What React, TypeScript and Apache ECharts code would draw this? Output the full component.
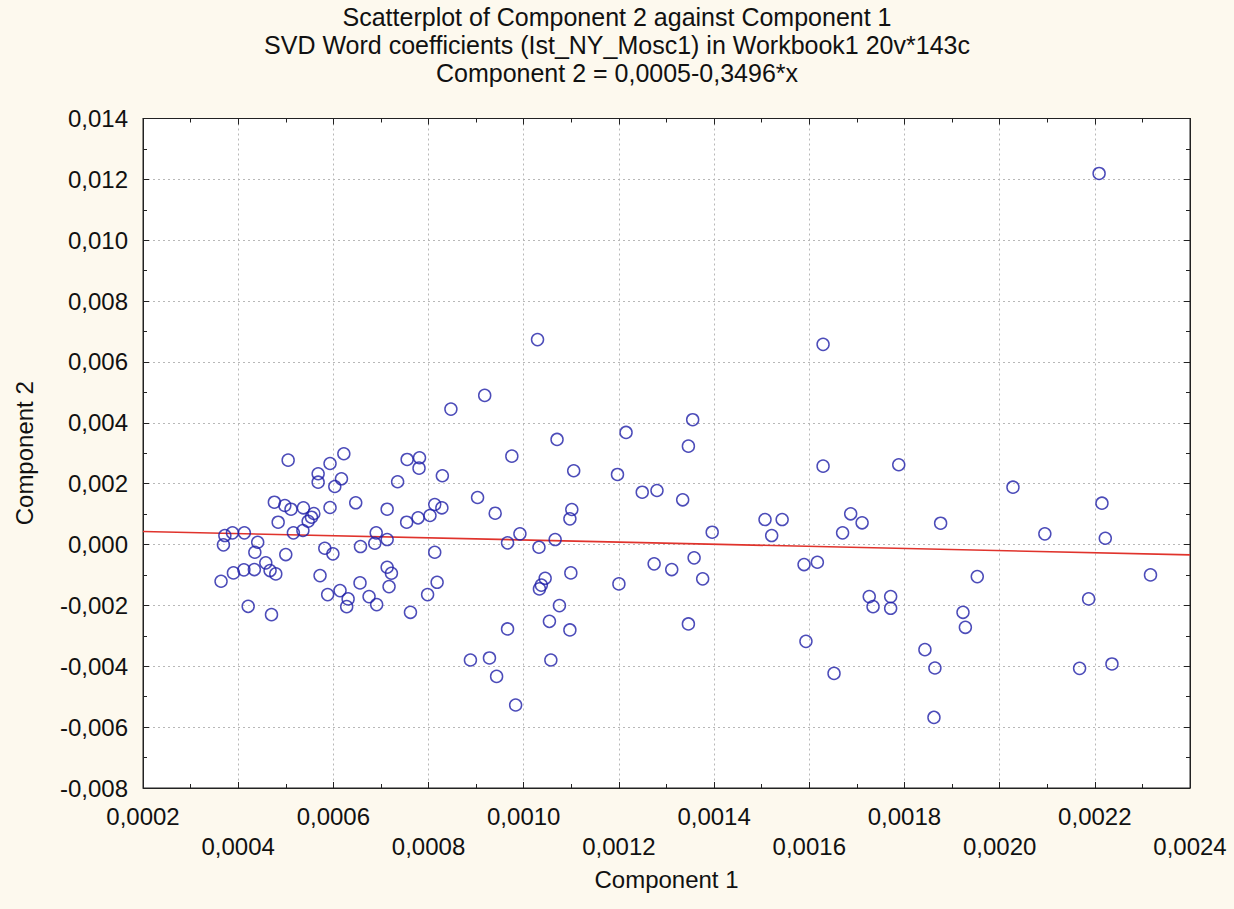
import React, { useEffect, useRef } from "react";
import * as echarts from "echarts";

const titleLines = [
  "Scatterplot of Component 2 against Component 1",
  "SVD Word coefficients (Ist_NY_Mosc1) in Workbook1 20v*143c",
  "Component 2 = 0,0005-0,3496*x",
];

// Component 1 values
const comp1 = [
  0.000847, 0.000505, 0.000622, 0.000593, 0.000568, 0.000568, 0.000617, 0.000603, 0.000755, 0.000781,
  0.00078, 0.000829, 0.000735, 0.000476, 0.000498, 0.000511, 0.000537, 0.000593, 0.000647, 0.000713,
  0.000813, 0.000828, 0.000554, 0.000547, 0.000536, 0.000516, 0.000484, 0.000754, 0.000778, 0.000803,
  0.000372, 0.000388, 0.000413, 0.000369, 0.000441, 0.000435, 0.0005, 0.00069, 0.000687, 0.000713,
  0.000657, 0.000582, 0.000599, 0.000813, 0.000458, 0.000467, 0.000479, 0.000434, 0.000412, 0.00039,
  0.000364, 0.000572, 0.000713, 0.000722, 0.000717, 0.000656, 0.000588, 0.000614, 0.000631, 0.000628,
  0.000675, 0.000691, 0.000798, 0.000818, 0.000762, 0.000421, 0.00047, 0.001029, 0.000918, 0.001355,
  0.001215, 0.001346, 0.00107, 0.000975, 0.001105, 0.001197, 0.001249, 0.00128, 0.001334, 0.000903,
  0.00094, 0.001101, 0.001097, 0.001396, 0.000992, 0.000966, 0.001066, 0.001032, 0.001045, 0.001033,
  0.001099, 0.001075, 0.001054, 0.001097, 0.000966, 0.0012, 0.001274, 0.001311, 0.001358, 0.001376,
  0.001346, 0.000888, 0.000928, 0.000943, 0.001057, 0.000983, 0.001629, 0.001629, 0.001788, 0.001507,
  0.001543, 0.001521, 0.001687, 0.001711, 0.00167, 0.001876, 0.001589, 0.001617, 0.001726, 0.001734,
  0.001771, 0.001771, 0.001593, 0.001652, 0.001843, 0.001864, 0.001862, 0.001923, 0.001928, 0.001953,
  0.002209, 0.002028, 0.002215, 0.002095, 0.002222, 0.002317, 0.002187, 0.002168, 0.002236, 0.001037,
  0.000559,
];

// Component 2 values
const comp2 = [
  0.004451, 0.002773, 0.002984, 0.002664, 0.002326, 0.002049, 0.002161, 0.001908, 0.002796, 0.002852,
  0.00251, 0.00226, 0.002063, 0.001391, 0.001283, 0.001161, 0.001207, 0.001217, 0.001372, 0.001161,
  0.001316, 0.001207, 0.000898, 0.000766, 0.000461, 0.000385, 0.000734, 0.000734, 0.000878, 0.000954,
  0.000296, 0.000385, 0.000385, -0.00001, 0.000076, -0.000253, -0.000329, 0.000385, 0.000043, 0.000164,
  -0.000066, -0.000122, -0.000306, -0.000253, -0.000602, -0.000855, -0.000964, -0.000822, -0.000832, -0.000931,
  -0.001207, -0.00102, -0.000747, -0.000944, -0.001382, -0.00126, -0.001645, -0.001513, -0.001786, -0.00204,
  -0.001711, -0.001974, -0.001645, -0.00124, -0.002227, -0.00203, -0.002303, 0.006734, 0.004901, 0.004102,
  0.003684, 0.003234, 0.003454, 0.002905, 0.002424, 0.002303, 0.00172, 0.001776, 0.00147, 0.001546,
  0.00103, 0.001151, 0.000845, 0.000405, 0.000352, 0.000056, 0.000164, -0.000089, -0.001109, -0.001457,
  -0.000931, -0.002007, -0.002523, -0.002806, -0.002773, -0.001293, -0.000635, -0.000822, -0.000438, -0.001128,
  -0.002609, -0.003793, -0.003727, -0.004332, -0.003793, -0.005273, 0.006579, 0.002576, 0.002622, 0.000822,
  0.000822, 0.000296, 0.00101, 0.000714, 0.000385, 0.000701, -0.000658, -0.000582, -0.001711, -0.00204,
  -0.001711, -0.002095, -0.003181, -0.004234, -0.003454, -0.004056, -0.005681, -0.002227, -0.00272, -0.001053,
  0.012194, 0.001885, 0.001359, 0.000352, 0.000207, -0.000997, -0.001786, -0.004069, -0.003924, -0.001332,
  0.00102,
];

const fitIntercept = 0.0005;
const fitSlope = -0.3496;

const xMin = 0.0002;
const xMax = 0.0024;
const xStep = 0.0002;
const yMin = -0.008;
const yMax = 0.014;
const yStep = 0.002;

const FONT = "'Liberation Sans', Arial, sans-serif";

export default function App() {
  const ref = useRef<HTMLDivElement>(null);
  useEffect(() => {
    if (!ref.current) return;
    const chart = echarts.init(ref.current, null, { renderer: "svg" });
    const points = comp1.map((x, i) => [x, comp2[i]]);
    const fitLine = [
      [xMin, fitIntercept + fitSlope * xMin],
      [xMax, fitIntercept + fitSlope * xMax],
    ];
    const tickStyle = { show: true, inside: true, length: 6, lineStyle: { color: "#222", width: 1 } };
    const minorStyle = { show: true, splitNumber: 2, length: 4, lineStyle: { color: "#222", width: 1 } };
    chart.setOption({
      animation: false,
      backgroundColor: "#FDF9EE",
      title: {
        text: titleLines.join("\n"),
        left: "center",
        top: -2,
        textStyle: { fontFamily: FONT, fontSize: 25, fontWeight: "normal", color: "#111", lineHeight: 28 },
      },
      grid: {
        left: 143,
        right: 44,
        top: 118.5,
        bottom: 121,
        show: true,
        backgroundColor: "#ffffff",
        borderColor: "#222",
        borderWidth: 1,
      },
      xAxis: [
        {
          type: "value",
          min: xMin,
          max: xMax,
          interval: xStep,
          position: "bottom",
          name: "Component 1",
          nameLocation: "middle",
          nameGap: 79,
          nameTextStyle: { fontFamily: FONT, fontSize: 24, color: "#111" },
          axisLine: { show: true, onZero: false, lineStyle: { color: "#222" } },
          axisTick: tickStyle,
          minorTick: minorStyle,
          splitLine: { show: true, lineStyle: { color: "#b8b8b8", type: [2, 3] } },
          axisLabel: {
            fontFamily: FONT,
            fontSize: 24,
            color: "#111",
            margin: 13,
            lineHeight: 30,
            formatter: (v: number) => {
              const s = v.toFixed(4).replace(".", ",");
              const idx = Math.round((v - xMin) / xStep);
              return idx % 2 === 1 ? "\n" + s : s;
            },
          },
        },
        {
          type: "value",
          min: xMin,
          max: xMax,
          interval: xStep,
          position: "top",
          axisLine: { show: true, onZero: false, lineStyle: { color: "#222" } },
          axisTick: tickStyle,
          minorTick: minorStyle,
          splitLine: { show: false },
          axisLabel: { show: false },
        },
      ],
      yAxis: [
        {
          type: "value",
          min: yMin,
          max: yMax,
          interval: yStep,
          position: "left",
          name: "Component 2",
          nameLocation: "middle",
          nameGap: 107,
          nameTextStyle: { fontFamily: FONT, fontSize: 24, color: "#111" },
          axisLine: { show: true, onZero: false, lineStyle: { color: "#222" } },
          axisTick: tickStyle,
          minorTick: minorStyle,
          splitLine: { show: true, lineStyle: { color: "#b8b8b8", type: [2, 3] } },
          axisLabel: {
            fontFamily: FONT,
            fontSize: 24,
            color: "#111",
            margin: 15,
            formatter: (v: number) => {
              const s = Math.abs(v).toFixed(3).replace(".", ",");
              return v < -1e-9 ? "-" + s : s;
            },
          },
        },
        {
          type: "value",
          min: yMin,
          max: yMax,
          interval: yStep,
          position: "right",
          axisLine: { show: true, onZero: false, lineStyle: { color: "#222" } },
          axisTick: tickStyle,
          minorTick: minorStyle,
          splitLine: { show: false },
          axisLabel: { show: false },
        },
      ],
      series: [
        {
          type: "line",
          data: fitLine,
          xAxisIndex: 0,
          yAxisIndex: 0,
          symbol: "none",
          lineStyle: { color: "#e0332c", width: 1.6 },
          z: 2,
          silent: true,
        },
        {
          type: "scatter",
          data: points,
          xAxisIndex: 0,
          yAxisIndex: 0,
          symbol: "circle",
          symbolSize: 12,
          itemStyle: { color: "rgba(255,255,255,0)", borderColor: "#1f1fa8", borderWidth: 1.5 },
          z: 3,
        },
      ],
    });
    return () => chart.dispose();
  }, []);
  return (
    <div
      ref={ref}
      style={{ position: "fixed", left: 0, top: 0, width: 1234, height: 909 }}
    />
  );
}
